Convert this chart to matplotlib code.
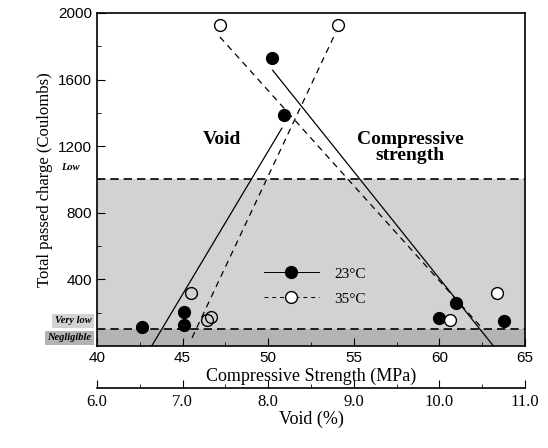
import matplotlib
matplotlib.use("Agg")
import matplotlib.pyplot as plt
from matplotlib.lines import Line2D
import numpy as np

# 23C (filled) points vs compressive strength and vs void
strength_23 = [50.25, 60.95, 59.95, 63.8]
charge_23_s = [1728, 260, 170, 152]
void_23 = [6.52, 7.02, 7.02, 8.18]
charge_23_v = [116, 206, 126, 1386]

# 35C (open) points
strength_35 = [47.2, 60.6, 63.35]
charge_35_s = [1926, 156, 320]
void_35 = [7.10, 7.28, 7.33, 8.82]
charge_35_v = [316, 156, 172, 1926]

# fitted lines (end points)
fit_void_23 = [6.64, 8.16]
fit_void_23_q = [0, 1308]
fit_void_35 = [7.11, 8.79]
fit_void_35_q = [48, 1884]
fit_str_23 = [50.26, 63.15]
fit_str_23_q = [1656, 0]
fit_str_35 = [47.18, 62.37]
fit_str_35_q = [1856, 120]

# charge classes
low_lim = 1000
verylow_lim = 100

def void_to_x(v):
    # void axis 6..11 laid over strength axis 40..65
    return 40 + (np.asarray(v) - 6.0) * 5.0

serif = "Liberation Serif"
sans = "Liberation Sans"

fig = plt.figure(figsize=(5.48, 4.48), dpi=100)
ax = fig.add_axes([0.177, 0.228, 0.781, 0.743])
for s in ax.spines.values():
    s.set_linewidth(1.2)

ax.axhspan(0, verylow_lim, color="#b4b4b4", lw=0, zorder=0)
ax.axhspan(verylow_lim, low_lim, color="#d2d2d2", lw=0, zorder=0)
ax.axhline(low_lim, color="k", ls=(0, (5, 3)), lw=1.2, zorder=1)
ax.axhline(verylow_lim, color="k", ls=(0, (5, 3)), lw=1.2, zorder=1)

ax.plot(void_to_x(fit_void_23), fit_void_23_q, "-", color="k", lw=0.9)
ax.plot(void_to_x(fit_void_35), fit_void_35_q, "--", color="k", lw=0.9, dashes=(5, 4))
ax.plot(fit_str_23, fit_str_23_q, "-", color="k", lw=0.9)
ax.plot(fit_str_35, fit_str_35_q, "--", color="k", lw=0.9, dashes=(5, 4))

ms = 8.5
ax.plot(strength_23, charge_23_s, "o", color="k", ms=ms, zorder=3)
ax.plot(void_to_x(void_23), charge_23_v, "o", color="k", ms=ms, zorder=3)
ax.plot(strength_35, charge_35_s, "o", mfc="white", mec="k", mew=1.0, ms=ms, zorder=3)
ax.plot(void_to_x(void_35), charge_35_v, "o", mfc="none", mec="k", mew=1.0, ms=ms, zorder=3)

ax.set_xlim(40, 65)
ax.set_ylim(0, 2000)
ax.set_xticks([40, 45, 50, 55, 60, 65])
ax.set_xticks(np.arange(42.5, 65, 5), minor=True)
ax.set_yticks([400, 800, 1200, 1600, 2000])
ax.set_yticks(np.arange(200, 2000, 400), minor=True)
ax.tick_params(direction="in", which="major", length=6, labelsize=11)
ax.tick_params(direction="in", which="minor", length=3)
for lab in ax.get_xticklabels() + ax.get_yticklabels():
    lab.set_fontfamily(sans)
ax.set_xlabel("Compressive Strength (MPa)", fontfamily=serif, fontsize=13, labelpad=2)
ax.set_ylabel("Total passed charge (Coulombs)", fontfamily=serif, fontsize=12, labelpad=4)

ax.text(47.3, 1240, "Void", fontfamily=serif, fontweight="bold", fontsize=14, ha="center", va="center")
ax.text(58.3, 1190, "Compressive\nstrength", fontfamily=serif, fontweight="bold", fontsize=14,
        ha="center", va="center", linespacing=0.95)

# class labels in the left margin
ax.text(-0.04, 1045, "Low", transform=ax.get_yaxis_transform(), fontfamily=serif, style="italic",
        fontweight="bold", fontsize=7.5, ha="right", va="bottom")
ax.text(-0.013, 150, "Very low", transform=ax.get_yaxis_transform(), fontfamily=serif, style="italic",
        fontweight="bold", fontsize=7.5, ha="right", va="center",
        bbox=dict(boxstyle="square,pad=0.25", fc="#d2d2d2", ec="none"))
ax.text(-0.013, 48, "Negligible", transform=ax.get_yaxis_transform(), fontfamily=serif, style="italic",
        fontweight="bold", fontsize=7.5, ha="right", va="center",
        bbox=dict(boxstyle="square,pad=0.25", fc="#b4b4b4", ec="none"))

handles = [
    Line2D([], [], color="k", lw=0.7, marker="o", ms=ms, mfc="k"),
    Line2D([], [], color="k", lw=0.7, ls="--", dashes=(4, 4), marker="o", ms=ms, mfc="white", mec="k"),
]
leg = ax.legend(handles, ["23°C", "35°C"], loc="upper left", bbox_to_anchor=(0.372, 0.26),
                frameon=False, borderpad=0, handlelength=3.6, handletextpad=1.0,
                labelspacing=0.75, prop={"family": serif, "size": 11})

# secondary void axis below
ax2 = fig.add_axes([0.177, 0.134, 0.781, 0.0])
ax2.set_xlim(6.0, 11.0)
for s in ["top", "left", "right"]:
    ax2.spines[s].set_visible(False)
ax2.spines["bottom"].set_linewidth(1.2)
ax2.set_yticks([])
ax2.set_xticks([6.0, 7.0, 8.0, 9.0, 10.0, 11.0])
ax2.set_xticklabels(["6.0", "7.0", "8.0", "9.0", "10.0", "11.0"])
ax2.set_xticks(np.arange(6.5, 11, 1.0), minor=True)
ax2.tick_params(direction="in", which="major", length=6, labelsize=12, pad=4)
ax2.tick_params(direction="in", which="minor", length=3)
for lab in ax2.get_xticklabels():
    lab.set_fontfamily(serif)
ax2.set_xlabel("Void (%)", fontfamily=serif, fontsize=13, labelpad=1)

fig.savefig("out.png", dpi=100)
